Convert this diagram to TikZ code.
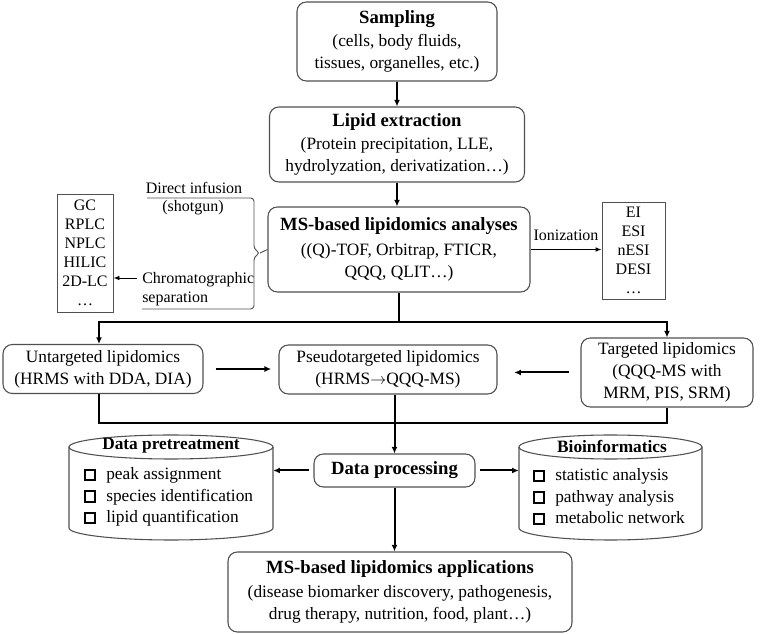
\documentclass[tikz,border=0pt]{standalone}
\usepackage{fontspec}
\setmainfont{Liberation Serif}
\usetikzlibrary{arrows.meta}
\definecolor{boxgray}{HTML}{505050}
\newcommand{\boxtitle}[1]{{\fontsize{14}{16}\selectfont\bfseries #1}}
\begin{document}
\begin{tikzpicture}[x=0.75pt,y=-0.75pt,
  box/.style={draw=boxgray, line width=0.8pt, rounded corners=7pt, align=center, inner sep=0pt, font=\fontsize{13}{16.5}\selectfont},
  sbox/.style={draw=boxgray, line width=0.7pt, align=center, inner sep=0pt, font=\fontsize{12}{14.25}\selectfont},
  main/.style={line width=1.5pt, -{Latex[length=5pt,width=4.5pt]}},
  mainline/.style={line width=1.5pt},
  thinarr/.style={line width=0.7pt, -{Latex[length=4.5pt,width=3.5pt]}},
  thinline/.style={line width=0.7pt, draw=boxgray},
  cyl/.style={draw=boxgray, line width=0.8pt},
  sq/.style={draw, line width=1.5pt, minimum size=8pt, inner sep=0pt},
  lbl/.style={font=\fontsize{12}{14}\selectfont, inner sep=0pt},
  item/.style={font=\fontsize{13}{15}\selectfont, inner sep=0pt, anchor=base west},
]
\useasboundingbox (0,0) rectangle (765,634);

% main boxes
\node[box, minimum width=150pt, minimum height=59.25pt] (samp) at (397,41.5)
  {\boxtitle{Sampling}\\[1pt](cells, body fluids,\\tissues, organelles, etc.)};
\node[box, minimum width=191.25pt, minimum height=56.25pt] (lip) at (397,144.5)
  {\boxtitle{Lipid extraction}\\[1pt](Protein precipitation, LLE,\\hydrolyzation, derivatization…)};
\node[box, minimum width=196.5pt, minimum height=63.75pt] (ms) at (399,249.5)
  {\boxtitle{MS-based lipidomics analyses}\\[2pt]((Q)-TOF, Orbitrap, FTICR,\\QQQ, QLIT…)};
\node[sbox, minimum width=47.25pt, minimum height=72.75pt] (ion) at (633.5,250.5)
  {EI\\ESI\\nESI\\DESI\\…};
\node[sbox, minimum width=42pt, minimum height=88.5pt] (gc) at (85,253)
  {GC\\RPLC\\NPLC\\HILIC\\2D-LC\\…};

\node[box, minimum width=150pt, minimum height=36.75pt] (unt) at (103,369)
  {Untargeted lipidomics\\(HRMS with DDA, DIA)};
\node[box, minimum width=163.5pt, minimum height=36.75pt] (pseudo) at (388,369.5)
  {Pseudotargeted lipidomics\\(HRMS\ensuremath{\rightarrow}QQQ-MS)};
\node[box, minimum width=129pt, minimum height=51.75pt] (targ) at (667,372.5)
  {Targeted lipidomics\\(QQQ-MS with\\MRM, PIS, SRM)};

\node[box, minimum width=120.75pt, minimum height=24.75pt] (dp) at (394.5,470.5)
  {\boxtitle{Data processing}};
\node[box, minimum width=258pt, minimum height=60pt] (app) at (400,592)
  {\boxtitle{MS-based lipidomics applications}\\[1pt](disease biomarker discovery, pathogenesis,\\drug therapy, nutrition, food, plant…)};

% cylinders
\node[minimum width=153pt, minimum height=78.75pt, inner sep=0pt] (pre) at (171,487.5) {};
\draw[cyl] (171,447) ellipse [x radius=76.5pt, y radius=9pt];
\draw[cyl] (69,447) -- (69,528) arc[start angle=180, end angle=360, x radius=76.5pt, y radius=9pt] -- (273,447);
\node[font=\fontsize{13}{15}\selectfont\bfseries, inner sep=0pt] (pret) at (171,446) {Data pretreatment};

\node[minimum width=137.25pt, minimum height=78.75pt, inner sep=0pt] (bio) at (610.5,487.5) {};
\draw[cyl] (610.5,447) ellipse [x radius=68.625pt, y radius=9pt];
\draw[cyl] (519,447) -- (519,528) arc[start angle=180, end angle=360, x radius=68.625pt, y radius=9pt] -- (702,447);
\node[font=\fontsize{13}{15}\selectfont\bfseries, inner sep=0pt] (biot) at (612,446) {Bioinformatics};

\foreach \t [count=\i] in {peak assignment, species identification, lipid quantification}{
  \node[sq] (psq\i) at (90,{453.5+21.5*\i}) {};
  \node[item] (pit\i) at (106,{458.5+21.5*\i}) {\t};
}
\foreach \t [count=\i] in {statistic analysis, pathway analysis, metabolic network}{
  \node[sq] (bsq\i) at (539,{454.5+21.5*\i}) {};
  \node[item] (bit\i) at (555,{459.5+21.5*\i}) {\t};
}

% side labels
\node[lbl] (di) at (194,187.5) {Direct infusion};
\node[lbl] (sg) at (193,208) {(shotgun)};
\node[lbl, align=left, anchor=west] (chrom) at (142,289) {Chromatographic\\separation};

% bracket
\coordinate (bt) at (260,253);
\draw[thinline, rounded corners=2.5pt] (147,198) -- (254,198) -- (254,249) -- (bt) -- (254,257) -- (254,309) -- (142,309);
\draw[thinline] (bt) -- (ms.west);
\coordinate (cs) at ([xshift=-4pt,yshift=8.25pt]chrom.west);
\draw[thinarr] (cs) -- (cs -| gc.east);

% ionization
\draw[thinarr] (ms.east) -- (ms.east -| ion.west) node[midway, above=6pt, lbl] (ionl) {Ionization};

% vertical flow
\draw[main] (samp.south) -- (lip.north);
\draw[main] (lip.south) -- (lip.south |- ms.north);

\coordinate (sp) at (ms.south |- 0,322);
\draw[mainline] (ms.south) -- (sp);
\draw[main] (sp) -| ([xshift=-3pt]unt.north);
\draw[main] (sp) -| (targ.north);

\draw[main, shorten <=9pt, shorten >=5.5pt] (unt.east) -- (unt.east -| pseudo.west);
\draw[main, shorten <=8.25pt, shorten >=12.5pt] (targ.west) -- (targ.west -| pseudo.east);

\coordinate (mg) at (dp.north |- 0,423);
\draw[mainline] ([xshift=-3pt]unt.south) |- (mg);
\draw[mainline] (targ.south) |- (mg);
\draw[main] (dp.north |- pseudo.south) -- (dp.north);

\draw[main, shorten <=3pt] (dp.west) -- (dp.west -| pre.east);
\draw[main, shorten <=3pt] (dp.east) -- (dp.east -| bio.west);
\draw[main] (dp.south) -- (dp.south |- app.north);
\end{tikzpicture}
\end{document}
